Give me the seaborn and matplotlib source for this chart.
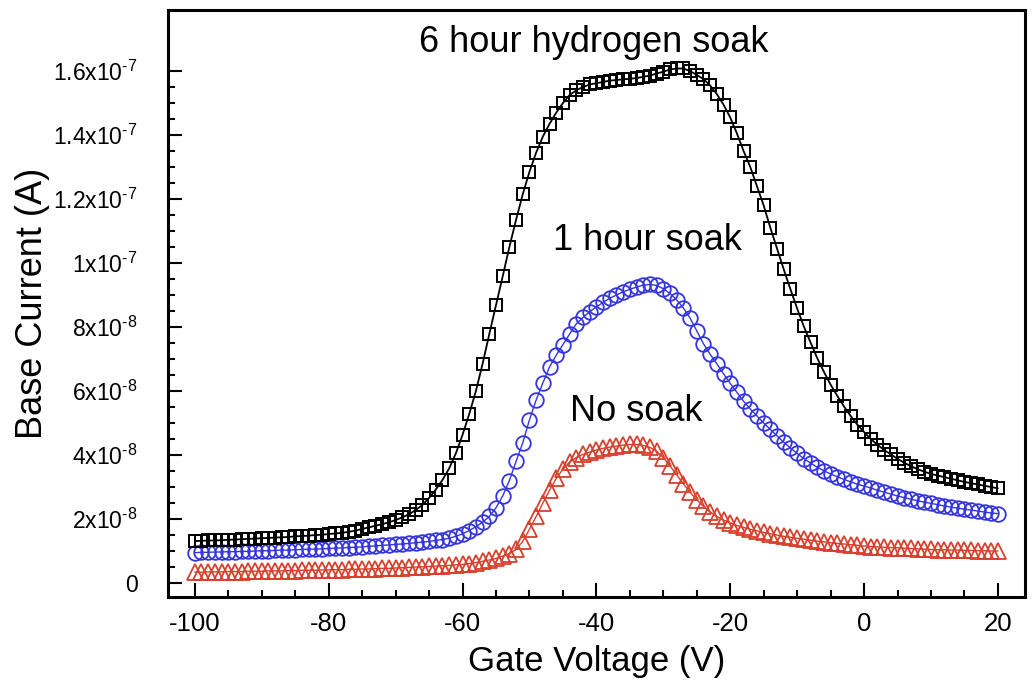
import numpy as np
import pandas as pd
import seaborn as sns
import matplotlib.pyplot as plt

# Gate voltage sweep, one reading per volt
gate_voltage = list(range(-100, 21))

# Base current in units of 1e-8 A
six_hour = [
    1.31, 1.32, 1.33, 1.33, 1.34, 1.35, 1.36, 1.37, 1.38, 1.39,
    1.40, 1.41, 1.42, 1.43, 1.44, 1.46, 1.47, 1.48, 1.50, 1.51,
    1.53, 1.55, 1.57, 1.60, 1.64, 1.69, 1.74, 1.79, 1.84, 1.90,
    1.97, 2.05, 2.15, 2.28, 2.44, 2.66, 2.92, 3.22, 3.58, 4.05,
    4.63, 5.28, 6.00, 6.85, 7.78, 8.68, 9.58, 10.5, 11.35, 12.15,
    12.85, 13.45, 13.95, 14.35, 14.7, 15.0, 15.25, 15.4, 15.5, 15.58,
    15.62, 15.66, 15.70, 15.72, 15.74, 15.76, 15.78, 15.82, 15.86, 15.92,
    15.98, 16.05, 16.08, 16.08, 16.0, 15.88, 15.75, 15.55, 15.28, 14.95,
    14.55, 14.05, 13.5, 13.0, 12.4, 11.8, 11.1, 10.45, 9.8, 9.18,
    8.58, 8.02, 7.52, 7.03, 6.6, 6.2, 5.85, 5.52, 5.22, 4.95,
    4.72, 4.5, 4.32, 4.16, 4.02, 3.88, 3.76, 3.65, 3.56, 3.48,
    3.41, 3.36, 3.31, 3.26, 3.21, 3.16, 3.12, 3.08, 3.04, 3.0,
    2.96,
]
one_hour = [
    0.95, 0.96, 0.96, 0.97, 0.97, 0.98, 0.98, 0.99, 0.99, 1.00,
    1.01, 1.01, 1.02, 1.03, 1.03, 1.04, 1.05, 1.06, 1.06, 1.07,
    1.08, 1.09, 1.10, 1.11, 1.12, 1.13, 1.15, 1.16, 1.18, 1.19,
    1.21, 1.22, 1.24, 1.26, 1.28, 1.30, 1.33, 1.36, 1.40, 1.46,
    1.54, 1.64, 1.76, 1.90, 2.08, 2.35, 2.72, 3.2, 3.8, 4.38,
    5.1, 5.72, 6.25, 6.75, 7.12, 7.45, 7.78, 8.1, 8.3, 8.48,
    8.63, 8.77, 8.9, 9.0, 9.1, 9.18, 9.25, 9.31, 9.33, 9.3,
    9.2, 9.05, 8.85, 8.6, 8.28, 7.88, 7.48, 7.15, 6.85, 6.54,
    6.24, 5.96, 5.68, 5.44, 5.22, 5.0, 4.8, 4.6, 4.4, 4.22,
    4.05, 3.89, 3.75, 3.62, 3.51, 3.41, 3.32, 3.24, 3.16, 3.09,
    3.03, 2.97, 2.9, 2.84, 2.78, 2.72, 2.67, 2.62, 2.57, 2.53,
    2.49, 2.45, 2.41, 2.37, 2.34, 2.31, 2.28, 2.25, 2.22, 2.19,
    2.17,
]
no_soak = [
    0.34, 0.34, 0.35, 0.35, 0.35, 0.36, 0.36, 0.36, 0.37, 0.37,
    0.37, 0.38, 0.38, 0.38, 0.39, 0.39, 0.40, 0.40, 0.40, 0.41,
    0.41, 0.42, 0.42, 0.43, 0.43, 0.44, 0.44, 0.45, 0.46, 0.46,
    0.47, 0.48, 0.49, 0.50, 0.51, 0.52, 0.53, 0.54, 0.55, 0.57,
    0.58, 0.61, 0.64, 0.68, 0.72, 0.77, 0.84, 0.92, 1.05, 1.3,
    1.68, 2.08, 2.5, 2.9, 3.27, 3.56, 3.78, 3.92, 4.02, 4.09,
    4.16, 4.21, 4.25, 4.28, 4.31, 4.33, 4.33, 4.3, 4.24, 4.12,
    3.92, 3.66, 3.38, 3.1, 2.84, 2.6, 2.4, 2.22, 2.08, 1.97,
    1.88, 1.8, 1.74, 1.68, 1.63, 1.58, 1.54, 1.5, 1.46, 1.43,
    1.4, 1.37, 1.34, 1.31, 1.29, 1.26, 1.24, 1.22, 1.2, 1.18,
    1.16, 1.14, 1.13, 1.12, 1.11, 1.10, 1.09, 1.08, 1.07, 1.06,
    1.05, 1.04, 1.04, 1.03, 1.03, 1.02, 1.02, 1.01, 1.01, 1.0,
    1.0,
]

x_ticks = [-100, -80, -60, -40, -20, 0, 20]
y_ticks = [0, 2e-8, 4e-8, 6e-8, 8e-8, 1e-7, 1.2e-7, 1.4e-7, 1.6e-7]
y_tick_labels = ["0", "2x10$^{\u20108}$", "4x10$^{\u20108}$", "6x10$^{\u20108}$", "8x10$^{\u20108}$",
                 "1x10$^{\u20107}$", "1.2x10$^{\u20107}$", "1.4x10$^{\u20107}$", "1.6x10$^{\u20107}$"]

df = pd.DataFrame({
    "V": gate_voltage,
    "six": np.array(six_hour) * 1e-8,
    "one": np.array(one_hour) * 1e-8,
    "none": np.array(no_soak) * 1e-8,
})

sns.set_style("ticks", {"axes.edgecolor": "black", "text.color": "black",
                        "xtick.color": "black", "ytick.color": "black",
                        "axes.labelcolor": "black"})
plt.rcParams["font.family"] = ["Liberation Sans", "DejaVu Sans"]
plt.rcParams["mathtext.default"] = "regular"
plt.rcParams["axes.unicode_minus"] = False

fig = plt.figure(figsize=(10.34, 6.84), dpi=100)
ax = fig.add_axes([0.1625, 0.127, 0.8285, 0.858])

red = "#d8402c"
blue = "#3535e0"
sns.lineplot(data=df, x="V", y="none", ax=ax, color=red, lw=1,
             marker="^", ms=11, mfc="none", mec=red, mew=1.3)
sns.lineplot(data=df, x="V", y="one", ax=ax, color=blue, lw=1,
             marker="o", ms=10.5, mfc="none", mec=blue, mew=1.3)
sns.lineplot(data=df, x="V", y="six", ax=ax, color="black", lw=1.3,
             marker="s", ms=9, mfc="none", mec="black", mew=1.4)

ax.set_xlim(-104, 24)
ax.set_ylim(-0.44e-8, 1.79e-7)
ax.set_xticks(x_ticks)
ax.set_xticklabels([str(v) for v in x_ticks])
ax.set_yticks(y_ticks)
ax.set_yticklabels(y_tick_labels)
ax.set_xticks(np.arange(-100, 21, 5), minor=True)
ax.set_yticks(np.arange(0, 1.65e-7, 0.5e-8), minor=True)
ax.tick_params(which="both", direction="in", top=False, right=False, width=1.5)
ax.tick_params(which="major", length=10)
ax.tick_params(which="minor", length=5)
ax.tick_params(axis="x", labelsize=18.5, pad=11)
ax.tick_params(axis="y", labelsize=16.5, pad=22)
for s in ax.spines.values():
    s.set_linewidth(2.2)

ax.set_xlabel("Gate Voltage (V)", fontsize=25, labelpad=6)
ax.set_ylabel("Base Current (A)", fontsize=26, labelpad=2)

ax.text(-40.4, 1.69e-7, "6 hour hydrogen soak", fontsize=26, ha="center", va="center")
ax.text(-32.4, 1.07e-7, "1 hour soak", fontsize=26, ha="center", va="center")
ax.text(-34.0, 5.37e-8, "No soak", fontsize=26, ha="center", va="center")

fig.savefig("out.png", dpi=100)
